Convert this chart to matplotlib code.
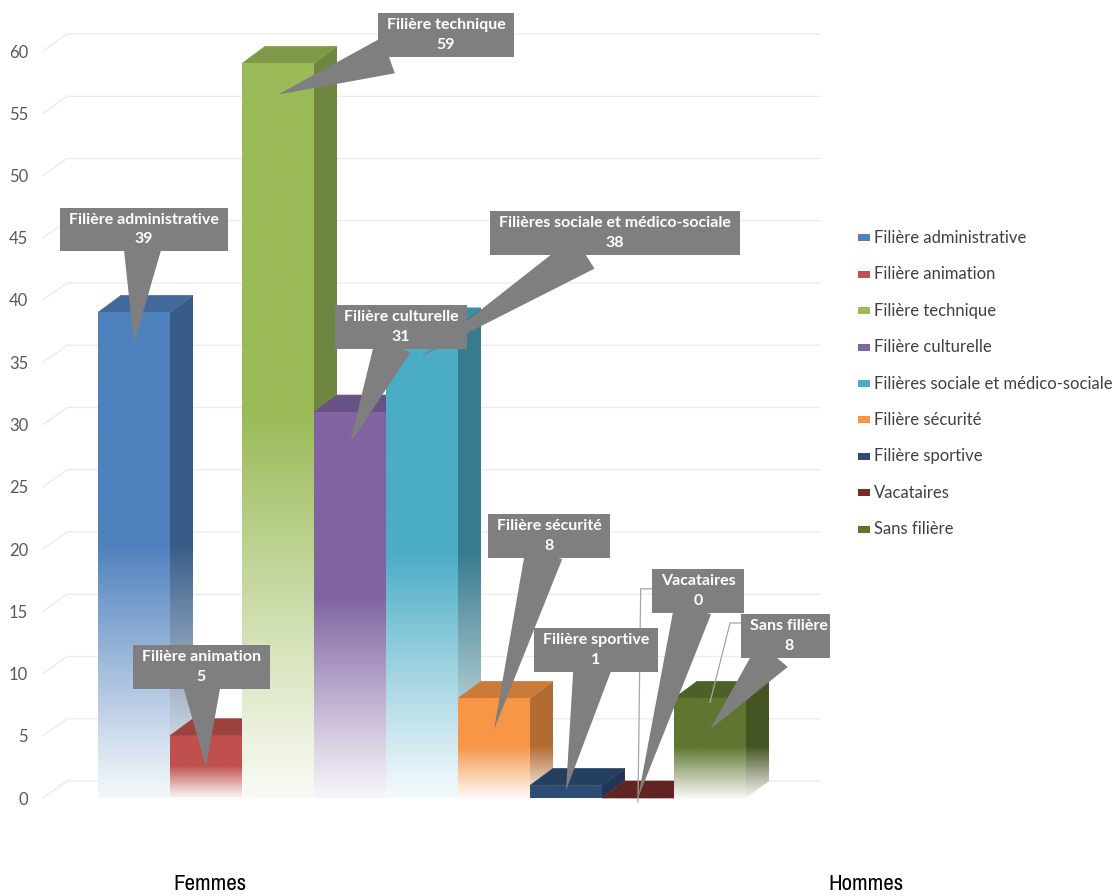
import numpy as np
import matplotlib
matplotlib.use("Agg")
import matplotlib.pyplot as plt
from matplotlib.patches import Rectangle, Polygon
from matplotlib.colors import to_rgb
from matplotlib import font_manager

# ---------------- data ----------------
series = ["Filière administrative", "Filière animation", "Filière technique",
          "Filière culturelle", "Filières sociale et médico-sociale",
          "Filière sécurité", "Filière sportive", "Vacataires", "Sans filière"]
values = [39, 5, 59, 31, 38, 8, 1, 0, 8]
colors = ["#4F81BD", "#C0504D", "#9BBB59", "#8064A2", "#4BACC6",
          "#F79646", "#2C4D75", "#772C2A", "#5F7530"]
groups = ["Femmes", "Hommes"]
yticks = list(range(0, 61, 5))

# pick a narrow sans font for the group labels if one is installed
narrow = None
for f in font_manager.fontManager.ttflist:
    if ("Narrow" in f.name or "Condensed" in f.name) and f.style == "normal":
        if narrow is None or "Liberation" in f.name:
            narrow = f
group_font = dict(fontfamily=["Liberation Sans"], fontsize=15)
if narrow is not None:
    group_font = dict(fontproperties=font_manager.FontProperties(fname=narrow.fname, size=16.5))

# ---------------- layout ----------------
W, H = 1119, 896
fig = plt.figure(figsize=(W / 100, H / 100), dpi=100)
AX_L, AX_R, AX_T, AX_B = 40, 830, 0, 830
ax = fig.add_axes([AX_L / W, 1 - AX_B / H, (AX_R - AX_L) / W, (AX_B - AX_T) / H])
PX_BAR = 72.0
PX_UNIT = 12.45
X0PX, Y0PX = 98.0, 798.0


def px2x(p):
    return (p - X0PX) / PX_BAR - 0.5


def px2y(p):
    return (Y0PX - p) / PX_UNIT


ax.set_xlim(px2x(AX_L), px2x(AX_R))
ax.set_ylim(px2y(AX_B), px2y(AX_T))
ax.set_autoscale_on(False)
for s in ax.spines.values():
    s.set_visible(False)
ax.set_xticks([])
ax.set_yticks(yticks)
ax.set_yticklabels([str(t) for t in yticks], fontfamily="Lato", fontsize=12, color="#595959")
ax.tick_params(axis="y", length=0, pad=8.5)

DX = 23 / PX_BAR
DY = 17 / PX_UNIT
GDX = 24 / PX_BAR

# back-wall gridlines
gx0 = px2x(43)
gx1 = px2x(820)
for v in yticks:
    ax.plot([gx0, gx0 + GDX, gx1], [v, v + DY, v + DY], color="#EBEBEB", lw=1.0, zorder=0)


def grad(color, v, ytop, shade=1.0, n=300):
    y = np.linspace(0, ytop, n)
    c = np.clip(np.array(to_rgb(color)) * shade, 0, 1)
    if v < 2:
        t = np.ones(n)
    else:
        f = y / v
        t = np.clip(f / 0.52, 0, 1)
        t = 0.06 + 0.94 * t ** 1.05
    rgb = (1 - t)[:, None] * np.ones(3)[None, :] + t[:, None] * c[None, :]
    return rgb[:, None, :]


xpos = np.arange(len(values))
bars = ax.bar(xpos, values, width=1.0, color="none", edgecolor="none")

for i, (rect, v, col) in enumerate(zip(bars.patches, values, colors)):
    x0 = rect.get_x()
    x1 = x0 + rect.get_width()
    z = 10 + 3 * i
    # side face
    side = Polygon([(x1, 0), (x1 + DX, DY), (x1 + DX, v + DY), (x1, v)], closed=True,
                   facecolor="none", edgecolor="none", zorder=z)
    ax.add_patch(side)
    im = ax.imshow(grad(col, v, v + DY, 0.72), origin="lower", aspect="auto",
                   extent=[x1, x1 + DX, 0, v + DY], interpolation="bilinear", zorder=z)
    im.set_clip_path(side)
    # top face
    c_top = np.clip(np.array(to_rgb(col)) * 0.82, 0, 1)
    top = Polygon([(x0, v), (x1, v), (x1 + DX, v + DY), (x0 + DX, v + DY)], closed=True,
                  facecolor=c_top, edgecolor=c_top, lw=0.5, zorder=z + 1)
    ax.add_patch(top)
    # front face
    if v > 0:
        rect.set_zorder(z + 2)
        im2 = ax.imshow(grad(col, v, v), origin="lower", aspect="auto",
                        extent=[x0, x1, 0, v], interpolation="bilinear", zorder=z + 2)
        im2.set_clip_path(rect)

# ---------------- callout labels ----------------
box_centers = [(144, 229.5), (201, 667), (446, 35), (401, 327), (615, 233),
               (549, 536), (596, 650), (698, 591), (789, 636)]
GRAY = "#7F7F7F"
PADX, PADY = 9, 5
texts = []
for i, (name, v) in enumerate(zip(series, values)):
    cx, cy = box_centers[i]
    t = ax.text(px2x(cx), px2y(cy), f"{name}\n{v}", ha="center", va="center",
                fontfamily="Lato", fontweight="bold", fontsize=11.5, color="white",
                linespacing=1.5, zorder=61)
    texts.append(t)

fig.canvas.draw()
renderer = fig.canvas.get_renderer()

for i, (t, v) in enumerate(zip(texts, values)):
    bb = t.get_window_extent(renderer)
    bl, br = bb.x0 - PADX, bb.x1 + PADX
    btop, bbot = H - bb.y1 - PADY, H - bb.y0 + PADY
    ax.add_patch(Rectangle((px2x(bl), px2y(bbot)), (br - bl) / PX_BAR, (bbot - btop) / PX_UNIT,
                           facecolor=GRAY, edgecolor="none", zorder=60))
    cx, cy = (bl + br) / 2, (btop + bbot) / 2
    # tip in data coords
    tipx = xpos[i]
    tipv = v - 2.5 if v >= 5 else 0.6 * v
    tpx = X0PX + (tipx + 0.5) * PX_BAR
    tpy = Y0PX - tipv * PX_UNIT
    d = np.array([tpx - cx, tpy - cy])
    L = np.hypot(*d)
    u = d / L
    sx = ((br - bl) / 2) / abs(u[0]) if abs(u[0]) > 1e-9 else 1e9
    sy = ((bbot - btop) / 2) / abs(u[1]) if abs(u[1]) > 1e-9 else 1e9
    s = min(sx, sy) - 4
    ex, ey = cx + u[0] * s, cy + u[1] * s
    perp = np.array([-u[1], u[0]])
    hw = 19
    pts = [(ex + perp[0] * hw, ey + perp[1] * hw), (ex - perp[0] * hw, ey - perp[1] * hw), (tpx, tpy)]
    ax.add_patch(Polygon([(px2x(a), px2y(b)) for a, b in pts], closed=True,
                         facecolor=GRAY, edgecolor="none", zorder=59))
    if series[i] in ("Vacataires", "Sans filière"):
        lx = bl - 11
        ly = btop + 0.45 * (bbot - btop) if series[i] == "Vacataires" else btop + 0.2 * (bbot - btop)
        endy = Y0PX - v * PX_UNIT + 4
        ax.plot([px2x(bl), px2x(lx), px2x(tpx)], [px2y(ly), px2y(ly), px2y(endy)],
                color="#A6A6A6", lw=0.9, zorder=58)

# ---------------- legend ----------------
for i, (name, col) in enumerate(zip(series, colors)):
    yc = 238 + 36.4 * i
    fig.patches.append(Rectangle((858 / W, 1 - (yc + 3.5) / H), 12 / W, 7 / H,
                                 transform=fig.transFigure, facecolor=col, edgecolor="none"))
    fig.text(874 / W, 1 - yc / H, name, ha="left", va="center", fontfamily="Lato",
             fontsize=12, color="#404040")

# ---------------- group labels ----------------
for name, gx in zip(groups, [210, 866]):
    fig.text(gx / W, 1 - 884 / H, name, ha="center", va="center", color="black", **group_font)

fig.savefig("out.png", dpi=100)
